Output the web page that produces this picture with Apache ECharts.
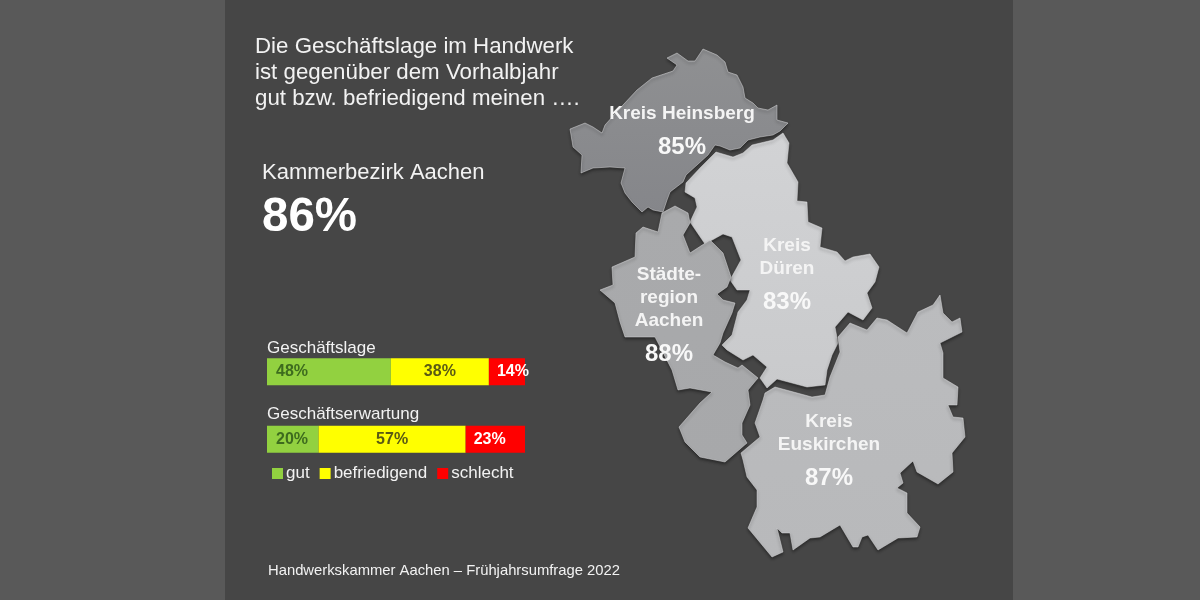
<!DOCTYPE html>
<html>
<head>
<meta charset="utf-8">
<style>html,body{margin:0;padding:0;background:#595959}#chart{width:1200px;height:600px}</style>
<script src="https://cdn.jsdelivr.net/npm/echarts@6/dist/echarts.min.js"></script>
</head>
<body>
<div id="chart"></div>
<script>
// stacked bars
var barCategories = ['Geschäftslage', 'Geschäftserwartung'];
var gutValues = [48, 20];
var befriedigendValues = [38, 57];
var schlechtValues = [14, 23];

// regions
var regionNames = ['Kreis Heinsberg', 'Kreis Düren', 'Städteregion Aachen', 'Kreis Euskirchen'];
var regionLabels = ['Kreis Heinsberg', 'Kreis\nDüren', 'Städte-\nregion\nAachen', 'Kreis\nEuskirchen'];
var regionValues = [85, 83, 88, 87];

// region outlines
var heinsbergOutline = [[667,58],[677,53],[688,61],[695,61],[703,49],[717,55],[725,62],[728,72],[737,75],[743,87],[745,98],[753,103],[758,108],[768,110],[777,105],[777,120],[788,123],[780,131],[773,135],[760,137],[748,140],[740,148],[730,150],[720,146],[715,145],[708,155],[697,165],[686,175],[683,182],[670,192],[667,200],[663,212],[653,210],[648,207],[642,212],[632,202],[625,193],[621,183],[625,168],[610,167],[593,168],[581,173],[582,155],[573,147],[570,129],[585,123],[593,127],[602,133],[605,125],[623,105],[637,90],[652,78],[673,71],[677,65]];
var duerenOutline = [[783,133],[789,143],[787,163],[798,182],[797,201],[807,202],[808,222],[822,228],[820,247],[837,252],[845,261],[853,257],[870,254],[879,267],[875,282],[867,293],[872,308],[863,320],[848,312],[835,327],[838,343],[832,355],[827,370],[825,385],[807,387],[777,379],[767,388],[760,378],[767,367],[753,355],[743,360],[727,350],[722,345],[732,335],[738,312],[747,300],[750,290],[737,290],[730,280],[741,260],[732,237],[723,234],[705,244],[690,222],[697,207],[695,198],[685,192],[686,183],[700,168],[716,152],[733,157],[743,153],[752,145],[773,140]];
var staedteOutline = [[675,206],[688,213],[690,223],[683,235],[690,253],[710,240],[723,253],[731,277],[727,287],[717,294],[723,300],[735,303],[732,313],[723,333],[720,343],[713,355],[725,362],[738,368],[742,365],[758,378],[748,390],[750,405],[742,423],[742,435],[747,443],[725,462],[700,457],[685,442],[679,427],[700,403],[712,392],[690,388],[678,390],[672,370],[655,337],[625,337],[620,322],[615,303],[600,290],[613,285],[612,267],[635,257],[636,233],[643,227],[658,232],[662,213]];
var euskirchenOutline = [[838,337],[850,323],[867,330],[877,318],[887,320],[907,333],[918,312],[933,305],[940,295],[943,313],[952,322],[960,318],[962,332],[940,343],[943,353],[943,378],[958,387],[957,405],[948,405],[953,417],[963,418],[965,437],[952,453],[953,472],[938,484],[917,472],[913,461],[900,473],[903,483],[897,488],[907,493],[907,513],[920,527],[917,537],[898,538],[878,550],[868,535],[862,537],[858,547],[853,547],[840,525],[820,537],[810,538],[793,550],[790,533],[782,533],[777,528],[783,552],[772,557],[748,528],[757,507],[757,490],[747,477],[743,460],[741,453],[760,437],[755,423],[763,400],[765,393],[775,387],[812,397],[825,395],[830,377],[840,352]];
var regionOutlines = [heinsbergOutline, duerenOutline, staedteOutline, euskirchenOutline];
var regionCenters = [[682,135.5],[787,279],[669,319.5],[829,455]];
var regionTop = ['#8f9092', '#d2d3d5', '#a9aaac', '#bbbcbe'];
var regionBottom = ['#85868a', '#c9cacc', '#a7a8aa', '#b8b9bb'];

var FONT = '"Liberation Sans", Arial, sans-serif';

echarts.registerMap('kammerbezirk', {
    type: 'FeatureCollection',
    features: regionOutlines.map(function (ring, i) {
        return {
            type: 'Feature',
            properties: {name: regionNames[i], cp: regionCenters[i]},
            geometry: {type: 'Polygon', coordinates: [ring.concat([ring[0]])]}
        };
    })
});

function textEl(x, y, text, size, weight, color) {
    return {
        type: 'text', x: x, y: y, z: 10, silent: true,
        style: {text: text, fill: color || '#f2f2f2', font: (weight || 'normal') + ' ' + size + 'px ' + FONT, textVerticalAlign: 'middle', textBaseline: 'middle'}
    };
}

function barSeries(name, values, color, labelColor, position, distance) {
    return {
        name: name, type: 'bar', stack: 'lage', barWidth: 27, data: values, silent: true, z: 3,
        itemStyle: {color: color},
        label: {
            show: true, position: position, distance: distance, formatter: '{c}%',
            color: labelColor, fontFamily: FONT, fontSize: 16, fontWeight: 'bold'
        }
    };
}

var chart = echarts.init(document.getElementById('chart'), null, {renderer: 'canvas'});
chart.setOption({
    animation: false,
    backgroundColor: '#595959',
    graphic: {elements: [
        {type: 'rect', z: -1, silent: true, shape: {x: 225, y: 0, width: 788, height: 600}, style: {fill: '#464646'}},
        textEl(255, 47, 'Die Geschäftslage im Handwerk', 22.3),
        textEl(255, 73, 'ist gegenüber dem Vorhalbjahr', 22.3),
        textEl(255, 99, 'gut bzw. befriedigend meinen ….', 22.3),
        textEl(262, 173, 'Kammerbezirk Aachen', 22),
        textEl(262, 218, '86%', 47.5, 'bold', '#ffffff'),
        textEl(267, 348, barCategories[0], 17),
        textEl(267, 414, barCategories[1], 17),
        textEl(268, 571, 'Handwerkskammer Aachen – Frühjahrsumfrage 2022', 14.8)
    ]},
    grid: {left: 267, width: 258, top: 338, height: 135},
    xAxis: {type: 'value', min: 0, max: 100, show: false},
    yAxis: {type: 'category', data: barCategories, inverse: true, show: false},
    legend: {
        left: 267, top: 460, itemWidth: 11, itemHeight: 11, itemGap: 10, icon: 'rect', selectedMode: false,
        data: ['gut', 'befriedigend', 'schlecht'],
        textStyle: {color: '#f2f2f2', fontFamily: FONT, fontSize: 17, padding: [0, 0, 0, -2]}
    },
    series: [
        barSeries('gut', gutValues, '#92d140', '#3d6b1e', 'insideLeft', 9),
        barSeries('befriedigend', befriedigendValues, '#ffff00', '#5a5a14', 'inside', 0),
        barSeries('schlecht', schlechtValues, '#ff0000', '#ffffff', 'insideLeft', 8),
        {
            type: 'map', map: 'kammerbezirk', silent: true, roam: false, z: 2,
            showLegendSymbol: false,
            projection: {
                project: function (p) { return p; },
                unproject: function (p) { return p; }
            },
            left: 570, right: 235, top: 49, bottom: 43,
            itemStyle: {
                borderColor: 'rgba(225,226,228,0.6)', borderWidth: 0.8,
                shadowColor: 'rgba(30,30,30,0.7)', shadowBlur: 3, shadowOffsetY: 2
            },
            label: {show: true},
            data: regionNames.map(function (name, i) {
                return {
                    name: name,
                    value: regionValues[i],
                    itemStyle: {
                        areaColor: {
                            type: 'linear', x: 0, y: 0, x2: 0, y2: 1,
                            colorStops: [{offset: 0, color: regionTop[i]}, {offset: 1, color: regionBottom[i]}]
                        }
                    },
                    label: {
                        show: true,
                        formatter: regionLabels[i].split('\n').map(function (l) { return '{n|' + l + '}'; }).join('\n') + '\n{v|' + regionValues[i] + '%}',
                        rich: {
                            n: {fontFamily: FONT, fontSize: 19, fontWeight: 'bold', color: '#f4f4f4', lineHeight: 23, align: 'center'},
                            v: {fontFamily: FONT, fontSize: 24, fontWeight: 'bold', color: '#f8f8f8', lineHeight: 43, align: 'center'}
                        }
                    }
                };
            })
        }
    ]
});
</script>
</body>
</html>
